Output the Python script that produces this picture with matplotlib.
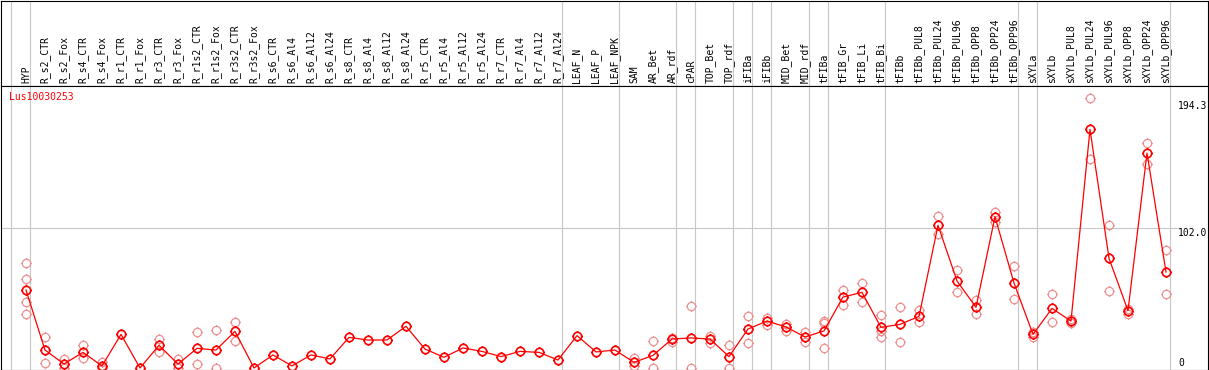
"""
        EXPRESSION PROFILE - Lus10030253
Mean expression per sample (red line) with the individual replicates (pale circles).
"""
import numpy as np
import matplotlib
matplotlib.use("Agg")
import matplotlib.pyplot as plt
from matplotlib.path import Path

###################
# The data        #
###################
gene_name = "Lus10030253"

categories = [
    "HYP", "R_s2_CTR", "R_s2_Fox", "R_s4_CTR", "R_s4_Fox", "R_r1_CTR", "R_r1_Fox",
    "R_r3_CTR", "R_r3_Fox", "R_r1s2_CTR", "R_r1s2_Fox", "R_r3s2_CTR", "R_r3s2_Fox",
    "R_s6_CTR", "R_s6_Al4", "R_s6_Al12", "R_s6_Al24", "R_s8_CTR", "R_s8_Al4", "R_s8_Al12",
    "R_s8_Al24", "R_r5_CTR", "R_r5_Al4", "R_r5_Al12", "R_r5_Al24", "R_r7_CTR", "R_r7_Al4",
    "R_r7_Al12", "R_r7_Al24", "LEAF_N", "LEAF_P", "LEAF_NPK", "SAM", "AR_Bet", "AR_rdf",
    "cPAR", "TOP_Bet", "TOP_rdf", "iFIBa", "iFIBb", "MID_Bet", "MID_rdf", "tFIBa",
    "tFIB_Gr", "tFIB_Li", "tFIB_Bi", "tFIBb", "tFIBb_PUL8", "tFIBb_PUL24", "tFIBb_PUL96",
    "tFIBb_OPP8", "tFIBb_OPP24", "tFIBb_OPP96", "sXYLa", "sXYLb", "sXYLb_PUL8",
    "sXYLb_PUL24", "sXYLb_PUL96", "sXYLb_OPP8", "sXYLb_OPP24", "sXYLb_OPP96",
]

mean_vals = [
    56.8, 13.1, 2.9, 11.4, 1.5, 24.5, 0.0, 16.5, 2.9, 14.3, 13.1, 26.7, 0.0, 9.5, 1.5,
    9.5, 6.6, 22.3, 20.4, 20.4, 30.4, 13.8, 7.8, 14.6, 12.1, 8.3, 12.1, 11.4, 5.8, 23.6, 11.7,
    13.1, 4.1, 9.2, 21.1, 21.9, 21.1, 8.3, 28.4, 34.2, 29.9, 22.6, 27.0, 51.7, 55.1, 29.6, 31.8,
    37.6, 104.0, 63.4, 44.2, 110.2, 61.9, 24.5, 43.4, 34.2, 173.9, 79.9, 41.8, 156.6, 69.9,
]

# Individual replicates (empty = hidden behind the mean marker)
replicate_vals = [
    [76.3, 64.6, 47.9, 39.1],  # HYP
    [22.3, 3.4], [6.8, 0.0], [16.5, 7.3], [4.6, 0.0], [], [],
    [21.1, 11.4], [6.8, 0.0], [26.0, 2.9], [27.7, 0.0], [33.3, 19.5],
    [], [], [], [], [], [], [], [], [], [],  # R_r3s2_Fox .. R_r5_CTR
    [], [], [], [], [], [], [], [], [], [],  # R_r5_Al4 .. LEAF_NPK
    [7.5, 1.7], [19.7, 0.0], [22.1, 18.7], [44.9, 0.0], [23.6, 18.2], [16.5, 0.0],
    [37.6, 18.0], [36.2, 31.6], [32.1, 27.2], [26.2, 18.7], [34.2, 32.6, 14.6],
    [56.6, 45.9], [61.9, 47.9], [38.4, 27.2, 22.6], [44.8, 18.7],
    [42.3, 33.3], [110.7, 97.6], [71.2, 55.4], [49.5, 39.1], [113.7, 106.6], [74.3, 50.3],
    [26.0, 22.8], [53.6, 33.3], [35.6, 33.0], [196.5, 152.0], [104.0, 56.1],
    [42.7, 39.3], [163.9, 148.6], [85.8, 53.7],
]

y_labels = [194.3, 102.0, 0]

# Sample groups end after these positions (vertical separators)
group_ends = [-1, 0, 28, 31, 34, 35, 37, 38, 39, 41, 42, 45, 52, 53, 60]

###################
# Layout helpers  #
###################
W, H = 1209, 370
font = dict(family="DejaVu Sans Mono", size=7)
grey = "#c8c8c8"


def px_box(x0, y0, x1, y1):
    # pixel box (top-left origin) -> figure fraction rect
    return [x0 / W, 1 - y1 / H, (x1 - x0) / W, (y1 - y0) / H]


# circle with four small ticks, like the original marker
tick = 1.25
circle = Path.unit_circle()
ring = Path.make_compound_path(
    Path(circle.vertices, circle.codes),
    Path([[1, 0], [tick, 0]], [Path.MOVETO, Path.LINETO]),
    Path([[-1, 0], [-tick, 0]], [Path.MOVETO, Path.LINETO]),
    Path([[0, 1], [0, tick]], [Path.MOVETO, Path.LINETO]),
    Path([[0, -1], [0, -tick]], [Path.MOVETO, Path.LINETO]),
)

fig = plt.figure(figsize=(W / 100, H / 100), dpi=100)
ax_head = fig.add_axes(px_box(0.5, 0.5, 1207.5, 85.5))
ax = fig.add_axes(px_box(0.5, 85.5, 1207.5, 369.5))

x = np.arange(len(categories))
xlim = ((0.5 - 26) / 19.0, (1207.5 - 26) / 19.0)
for a in (ax, ax_head):
    a.set_xlim(*xlim)
    a.set_xticks([])
    a.set_yticks([])
    for s in a.spines.values():
        s.set_color("black")
        s.set_linewidth(0.8)
    for d in group_ends:
        a.axvline(d + 0.21, color=grey, lw=0.8, zorder=0)
ax_head.set_ylim(0, 1)
ax.set_ylim(-(369.5 - 368) / 1.3725, (368 - 85.5) / 1.3725)

# header labels
for i, c in enumerate(categories):
    ax_head.text(i, 0.03, c, rotation=90, ha="center", va="bottom", **font)

# horizontal grid line at the middle label
ax.axhline(102.0, xmin=0, xmax=(1178 - 0.5) / 1207, color=grey, lw=0.8, zorder=0)

# replicates
rx = [i for i, r in enumerate(replicate_vals) for _ in r]
ry = [v for r in replicate_vals for v in r]
ax.plot(rx, ry, ls="none", marker=ring, ms=7.5, mfc="none", mec="#ee9090", mew=0.9,
        clip_on=False, zorder=2)

# mean profile
ax.plot(x, mean_vals, color="red", lw=0.9, marker=ring, ms=7.5, mfc="none", mec="red",
        mew=1.2, clip_on=False, zorder=3)

# right-hand value labels
x_lab = (1178 - 26) / 19.0
ax.text(x_lab, y_labels[0], f"{y_labels[0]:.1f}", va="top", ha="left", **font)
ax.text(x_lab, y_labels[1], f"{y_labels[1]:.1f}", va="top", ha="left", **font)
ax.text(x_lab, y_labels[2], f"{y_labels[2]}", va="bottom", ha="left", **font)

# gene name
ax.text(8 / 1207, 1 - 6 / 284, gene_name, color="red", va="top", ha="left",
        transform=ax.transAxes, **font)

fig.savefig("out.png", dpi=100)
